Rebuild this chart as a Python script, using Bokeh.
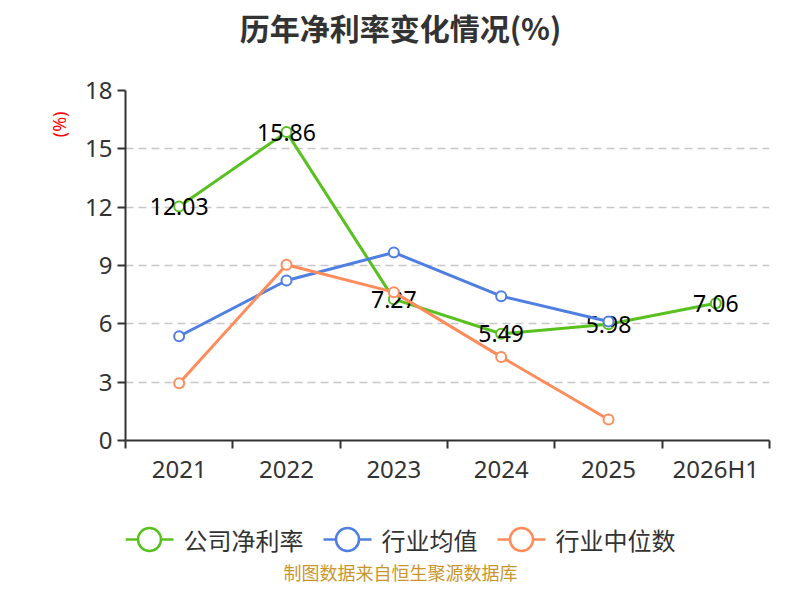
from bokeh.plotting import figure
from bokeh.models import Range1d, FixedTicker, ColumnDataSource, Title
from bokeh.layouts import column
from bokeh.embed import file_html
from bokeh.resources import INLINE
from bokeh.core.properties import value

# ---------------- data ----------------
categories = ["2021", "2022", "2023", "2024", "2025", "2026H1"]
company = [12.03, 15.86, 7.27, 5.49, 5.98, 7.06]
company_labels = ["12.03", "15.86", "7.27", "5.49", "5.98", "7.06"]
industry_avg = [5.36, 8.23, 9.67, 7.42, 6.12]
industry_median = [2.95, 9.04, 7.63, 4.30, 1.08]
y_ticks = [0, 3, 6, 9, 12, 15, 18]
series_names = ["公司净利率", "行业均值", "行业中位数"]
title_text = "历年净利率变化情况(%)"
unit_text = "(%)"
footer_text = "制图数据来自恒生聚源数据库"

# ---------------- style ----------------
colors = ["#58c11f", "#4f7fe0", "#ff8c5a"]
axis_color = "#333333"
num_font = "Noto Sans"
cjk_font = "Noto Sans CJK SC"

W = 784
FL, FR = 125, 769          # frame left / right (pixels)
n = len(categories)
xs = [i + 0.5 for i in range(n)]

# ---------------- title figure ----------------
TH = 60
t = figure(width=W, height=TH, x_range=Range1d(FL, FR), y_range=Range1d(TH, 0),
           x_axis_type=None, y_axis_type=None, output_backend="svg",
           toolbar_location=None, min_border=0,
           min_border_left=FL, min_border_right=W - FR)
t.outline_line_color = None
t.xgrid.visible = False
t.ygrid.visible = False
t.text(x=[400], y=[26], text=[title_text], text_align="center",
       text_baseline="middle", text_font=value(cjk_font),
       text_font_size="30px", text_font_style="bold", text_color="#333333")

# ---------------- main figure ----------------
PH = 450
p = figure(width=W, height=PH,
           x_range=Range1d(0, n), y_range=Range1d(y_ticks[0], y_ticks[-1]),
           output_backend="svg", toolbar_location=None,
           min_border_left=FL, min_border_right=W - FR,
           min_border_top=90 - TH, min_border_bottom=TH + PH - 440)
p.outline_line_color = None

# grid
p.xgrid.visible = False
p.ygrid.ticker = FixedTicker(ticks=y_ticks)
p.ygrid.grid_line_color = "#c8c8c8"
p.ygrid.grid_line_width = 1.5
p.ygrid.grid_line_dash = "8 5"

# y axis
p.yaxis.ticker = FixedTicker(ticks=y_ticks)
p.yaxis.axis_line_color = axis_color
p.yaxis.axis_line_width = 2
p.yaxis.major_tick_line_color = axis_color
p.yaxis.major_tick_line_width = 2
p.yaxis.major_tick_in = 0
p.yaxis.major_tick_out = 8
p.yaxis.minor_tick_line_color = None
p.yaxis.major_label_standoff = 5
p.yaxis.major_label_text_font = num_font
p.yaxis.major_label_text_font_size = "24px"
p.yaxis.major_label_text_color = axis_color

# x axis: labels at centres, ticks at boundaries
p.xaxis.ticker = FixedTicker(ticks=xs, minor_ticks=list(range(n + 1)))
p.xaxis.major_label_overrides = {x: c for x, c in zip(xs, categories)}
p.xaxis.axis_line_color = axis_color
p.xaxis.axis_line_width = 2
p.xaxis.major_tick_line_color = None
p.xaxis.major_tick_in = 0
p.xaxis.major_tick_out = 8
p.xaxis.minor_tick_line_color = axis_color
p.xaxis.minor_tick_line_width = 2
p.xaxis.minor_tick_in = 0
p.xaxis.minor_tick_out = 8
p.xaxis.major_label_standoff = 3
p.xaxis.major_label_text_font = num_font
p.xaxis.major_label_text_font_size = "24px"
p.xaxis.major_label_text_color = axis_color

# unit label on the left, near the top
p.add_layout(Title(text=unit_text, align="right", offset=21,
                   text_color="#ff0000", text_font=num_font,
                   text_font_size="18px", text_font_style="normal",
                   standoff=24), "left")

# company series
src_c = ColumnDataSource(dict(x=xs, y=company, t=company_labels))
p.line("x", "y", source=src_c, line_color=colors[0], line_width=3)
p.scatter("x", "y", source=src_c, size=10, marker="circle",
          fill_color="white", line_color=colors[0], line_width=2)
p.text("x", "y", text="t", source=src_c, text_align="center",
       text_baseline="middle", text_font=value(num_font),
       text_font_size="23px", text_color="#000000")

# industry average
src_a = ColumnDataSource(dict(x=xs[:len(industry_avg)], y=industry_avg))
p.line("x", "y", source=src_a, line_color=colors[1], line_width=3)
p.scatter("x", "y", source=src_a, size=10, marker="circle",
          fill_color="white", line_color=colors[1], line_width=2)

# industry median
src_m = ColumnDataSource(dict(x=xs[:len(industry_median)], y=industry_median))
p.line("x", "y", source=src_m, line_color=colors[2], line_width=3)
p.scatter("x", "y", source=src_m, size=10, marker="circle",
          fill_color="white", line_color=colors[2], line_width=2)

# ---------------- legend + footer figure ----------------
LH = 584 - TH - PH
top0 = TH + PH
q = figure(width=W, height=LH, x_range=Range1d(FL, FR), y_range=Range1d(top0 + LH, top0),
           x_axis_type=None, y_axis_type=None, output_backend="svg",
           toolbar_location=None, min_border=0,
           min_border_left=FL, min_border_right=W - FR)
q.outline_line_color = None
q.xgrid.visible = False
q.ygrid.visible = False

legend_y = 539
start = 125
line_w = 48
gap = 10
after = 20
char_w = 24
lx0, lx1, cx, tx, ly = [], [], [], [], []
for name in series_names:
    lx0.append(start)
    lx1.append(start + line_w)
    cx.append(start + line_w / 2)
    tx.append(start + line_w + gap)
    ly.append(legend_y)
    start = start + line_w + gap + char_w * len(name) + after

q.segment(x0=lx0, y0=ly, x1=lx1, y1=ly, line_color=colors, line_width=2.5)
q.scatter(x=cx, y=ly, size=23, marker="circle", fill_color="white",
          line_color=colors, line_width=2.5)
q.text(x=tx, y=ly, text=series_names, text_align="left", text_baseline="middle",
       text_font=value(cjk_font), text_font_size="24px", text_color="#333333")
q.text(x=[400], y=[571], text=[footer_text], text_align="center",
       text_baseline="middle", text_font=value(cjk_font),
       text_font_size="18px", text_color="#c9962e")

layout = column(t, p, q, spacing=0)
open("out.html", "w").write(file_html(layout, INLINE))
